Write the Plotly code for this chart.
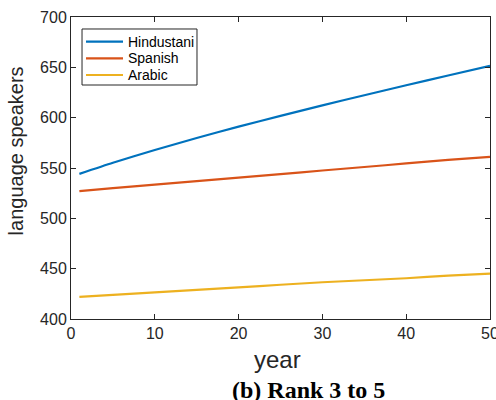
import plotly.graph_objects as go

years = [1, 5, 10, 15, 20, 25, 30, 35, 40, 45, 50]
hindustani = [544.2, 555.2, 567.9, 579.8, 591.1, 601.8, 612.2, 622.3, 632.2, 641.9, 651.5]
spanish = [527, 530, 533.5, 537, 540.5, 544, 547.5, 551, 554.5, 558, 561]
arabic = [422, 424, 426.5, 429, 431.5, 434, 436.5, 438.5, 440.5, 443, 445]

names = ["Hindustani", "Spanish", "Arabic"]
values = [hindustani, spanish, arabic]
colors = ["#0072BD", "#D95319", "#EDB120"]

x_ticks = [0, 10, 20, 30, 40, 50]
y_ticks = [400, 450, 500, 550, 600, 650, 700]

fig = go.Figure()
for name, vals, col in zip(names, values, colors):
    fig.add_trace(go.Scatter(x=years, y=vals, mode="lines", name=name,
                             line=dict(color=col, width=2.2, shape="spline", smoothing=0.6),
                             showlegend=False))

axis_common = dict(showgrid=False, zeroline=False, showline=True, linecolor="#262626",
                   linewidth=1, mirror="ticks", ticks="inside", ticklen=5,
                   tickcolor="#262626", automargin=False, ticklabeloverflow="allow",
                   tickfont=dict(family="Liberation Sans, Arial", size=16, color="#262626"))

fig.update_xaxes(range=[0, 50], tickvals=x_ticks, **axis_common)
fig.update_yaxes(range=[400, 700], tickvals=y_ticks, **axis_common)

# legend drawn manually (box, sample lines, labels)
shapes = [dict(type="rect", xref="paper", yref="paper", x0=0.0263, x1=0.3007,
               y0=0.7748, y1=0.9603, line=dict(color="#262626", width=1),
               fillcolor="white", layer="above")]
annotations = []
row_y = [0.9182, 0.8633, 0.8079]
for name, col, ry in zip(names, colors, row_y):
    shapes.append(dict(type="line", xref="paper", yref="paper", x0=0.0358, x1=0.1241,
                       y0=ry, y1=ry, line=dict(color=col, width=2.2), layer="above"))
    annotations.append(dict(text=name, xref="paper", yref="paper", x=0.1313, y=ry,
                            xanchor="left", yanchor="middle", showarrow=False,
                            font=dict(family="Liberation Sans, Arial", size=14, color="#000000")))

annotations += [
    dict(text="language speakers", xref="paper", yref="paper", x=-0.129, y=0.558,
         xanchor="center", yanchor="middle", textangle=-90, showarrow=False,
         font=dict(family="Liberation Sans, Arial", size=20, color="#262626")),
    dict(text="year", xref="paper", yref="paper", x=0.494, y=-0.1352,
         xanchor="center", yanchor="middle", showarrow=False,
         font=dict(family="Liberation Sans, Arial", size=24, color="#262626")),
    dict(text="<b>(b) Rank 3 to 5</b>", xref="paper", yref="paper", x=0.566, y=-0.2356,
         xanchor="center", yanchor="middle", showarrow=False,
         font=dict(family="Liberation Serif, Times New Roman", size=24, color="#000000")),
]

fig.update_layout(
    width=496, height=400,
    margin=dict(l=71, r=6, t=17, b=81),
    plot_bgcolor="white", paper_bgcolor="white",
    showlegend=False,
    shapes=shapes,
    annotations=annotations,
)

fig.write_html("out.html", config={"displayModeBar": False},
               post_script="document.body.style.margin='0';")
